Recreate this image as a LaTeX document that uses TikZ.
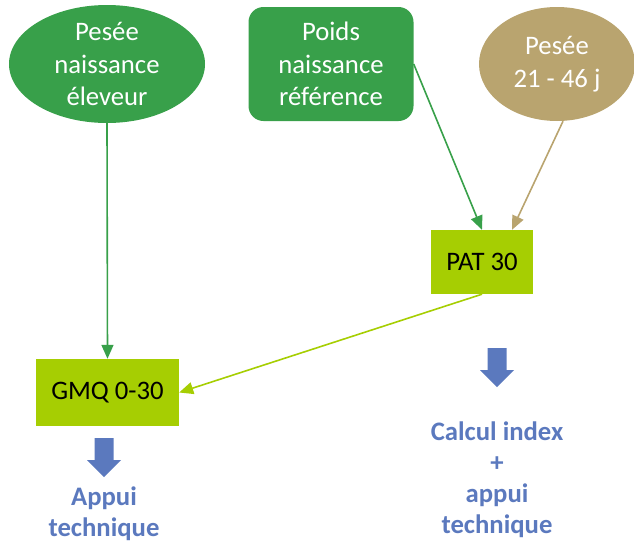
\documentclass[tikz,border=0pt]{standalone}
\usepackage{fontspec}
\setmainfont{Carlito}
\usetikzlibrary{shapes.geometric,arrows.meta,calc}
\definecolor{cgreen}{HTML}{38A04A}
\definecolor{ctan}{HTML}{B9A46F}
\definecolor{clime}{HTML}{A6CE02}
\definecolor{cblue}{HTML}{5B79BE}
\tikzset{
  txt/.style={font=\fontsize{26.7}{32.5}\selectfont, align=center},
  topnode/.style={txt, text=white, fill=#1, inner sep=0},
  limebox/.style={txt, fill=clime, text=black, inner sep=0},
  conn/.style={line width=1.6pt, draw=#1, -{Triangle[length=14pt,width=12pt,fill=#1]}},
  bluetxt/.style={txt, text=cblue, font=\fontsize{26.7}{31}\selectfont\bfseries, inner sep=0},
  blockarrow/.style={fill=cblue}
}
\newcommand{\blockdown}[1]{%
  \fill[blockarrow] ($(#1)+(-9.5,0)$) -- ($(#1)+(9.5,0)$) -- ($(#1)+(9.5,22)$) -- ($(#1)+(17,22)$)
    -- ($(#1)+(0,39)$) -- ($(#1)+(-17,22)$) -- ($(#1)+(-9.5,22)$) -- cycle;}
\begin{document}
\begin{tikzpicture}[x=1pt,y=-1pt]
\useasboundingbox (0,0) rectangle (634,544);
% top nodes
\node[topnode=cgreen, ellipse, minimum width=196pt, minimum height=114pt] (e1) at (107,64) {Pesée\\naissance\\éleveur};
\node[topnode=cgreen, rectangle, rounded corners=15pt, minimum width=165pt, minimum height=114pt] (r2) at (331,64) {Poids\\naissance\\référence};
\node[topnode=ctan, ellipse, minimum width=156pt, minimum height=114pt] (e3) at (557,64) {Pesée\\21 - 46 j};
% lime boxes
\node[limebox, minimum width=102pt, minimum height=64pt] (pat) at (482,262) {PAT 30};
\node[limebox, minimum width=143pt, minimum height=67pt] (gmq) at (107.5,392.5) {GMQ 0-30};
% connectors
\coordinate (patin) at ($(pat.north)+(30,0)$);
\coordinate (e3out) at ($(e3.south)+(6,0)$);
\draw[conn=cgreen] (e1.south) -- (gmq.north);
\draw[conn=cgreen] (r2.east) -- (pat.north);
\draw[conn=ctan] (e3out) -- (patin);
\draw[conn=clime] (pat.south) -- (gmq.east);
% block arrows
\coordinate (ba1) at (104,438);
\coordinate (ba2) at (497,348);
\blockdown{ba1}
\blockdown{ba2}
% blue texts
\node[bluetxt, anchor=north] (t1) at (104,487) {Appui\\technique};
\node[bluetxt, anchor=north] (t2) at (497,422) {Calcul index\\+\\appui\\technique};
\end{tikzpicture}
\end{document}
